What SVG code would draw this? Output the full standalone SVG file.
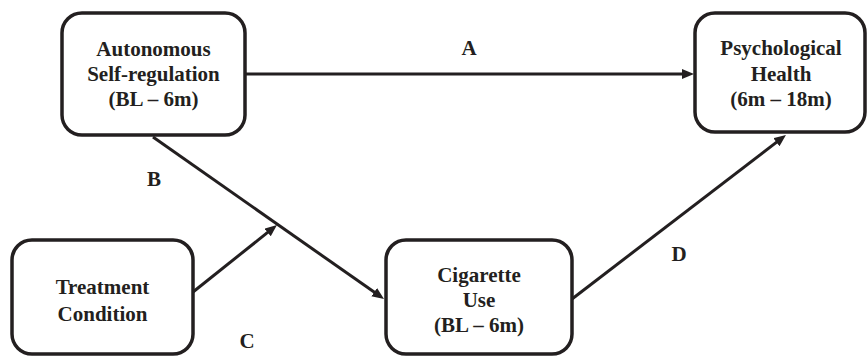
<svg xmlns="http://www.w3.org/2000/svg" width="868" height="356" viewBox="0 0 868 356">
  <defs>
    <marker id="arrow" markerUnits="userSpaceOnUse" markerWidth="14" markerHeight="12" refX="6" refY="5" orient="auto">
      <path d="M0,0 L12,5 L0,10 Z" fill="#231f20"/>
    </marker>
    <style>
      .box { fill: #ffffff; stroke: #231f20; stroke-width: 3.5; }
      .lbl { fill: #231f20; text-anchor: middle; }
      .edge { stroke: #231f20; stroke-width: 3; fill: none; marker-end: url(#arrow); }
    </style>
  </defs>
  <rect width="868" height="356" fill="#ffffff"/>

  <g font-family="Liberation Serif, 'Times New Roman', serif" font-weight="bold" font-size="21">
    <g id="connectors">
      <line class="edge" x1="245" y1="74" x2="688" y2="74"/>
      <line class="edge" x1="153" y1="137" x2="379.1" y2="295.6"/>
      <line class="edge" x1="193" y1="292" x2="272.3" y2="228.7"/>
      <line class="edge" x1="572" y1="299" x2="781.2" y2="138.6"/>
      <text class="lbl" x="469" y="55">A</text>
      <text class="lbl" x="154" y="186">B</text>
      <text class="lbl" x="247" y="348">C</text>
      <text class="lbl" x="679" y="261">D</text>
    </g>

    <g id="autonomous">
      <rect class="box" x="62" y="13" width="183" height="122" rx="20"/>
      <text class="lbl" x="153.5" y="56">Autonomous</text>
      <text class="lbl" x="153.5" y="81">Self-regulation</text>
      <text class="lbl" x="153.5" y="106">(BL – 6m)</text>
    </g>

    <g id="psychological">
      <rect class="box" x="695" y="13" width="170" height="119" rx="20"/>
      <text class="lbl" x="781" y="55">Psychological</text>
      <text class="lbl" x="781" y="81">Health</text>
      <text class="lbl" x="781" y="106">(6m – 18m)</text>
    </g>

    <g id="treatment">
      <rect class="box" x="12" y="240" width="181" height="114" rx="20"/>
      <text class="lbl" x="102.5" y="294">Treatment</text>
      <text class="lbl" x="102.5" y="321">Condition</text>
    </g>

    <g id="cigarette">
      <rect class="box" x="386" y="240" width="186" height="114" rx="20"/>
      <text class="lbl" x="479" y="282">Cigarette</text>
      <text class="lbl" x="479" y="307">Use</text>
      <text class="lbl" x="479" y="332">(BL – 6m)</text>
    </g>
  </g>
</svg>
